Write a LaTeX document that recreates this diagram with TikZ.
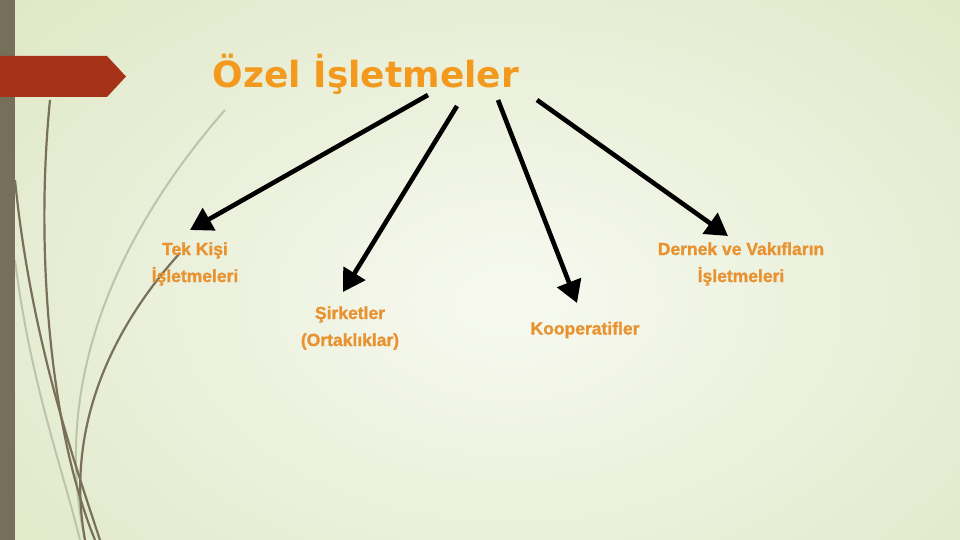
\documentclass[tikz,border=0pt]{standalone}
\usepackage{fontspec}
\setmainfont{Liberation Sans}
\newfontfamily\labfont{Liberation Sans}[FakeBold=1.2]
\newfontfamily\titlefont{DejaVu Sans}
\usetikzlibrary{arrows.meta}
\definecolor{bgout}{RGB}{220,230,194}
\definecolor{bgin}{RGB}{247,249,240}
\definecolor{barcol}{RGB}{118,112,90}
\definecolor{bannercol}{RGB}{166,50,24}
\definecolor{titlecol}{RGB}{243,154,30}
\definecolor{labcol}{RGB}{232,146,48}
\definecolor{curvedark}{RGB}{120,112,88}
\definecolor{curvelight}{RGB}{190,196,170}
\tikzset{
  conn/.style={line width=4.6pt,black,-{Triangle[length=22pt,width=25pt]}},
  lab/.style={font=\labfont\bfseries\fontsize{17.5}{27}\selectfont,text=labcol,align=center,inner sep=0pt},
  dcurve/.style={curvedark,line width=2.2pt},
  lcurve/.style={curvelight,line width=2pt},
}
\begin{document}
\begin{tikzpicture}[x=1pt,y=-1pt]
\useasboundingbox (0,0) rectangle (960,540);
% background
\shade[inner color=bgin,outer color=bgout] (-240,-200) rectangle (1260,800);
% decorative curves
\draw[lcurve] (225,110) .. controls (120,230) and (50,380) .. (85,540);
\draw[lcurve] (15,260) .. controls (30,380) and (60,460) .. (80,540);
\draw[dcurve] (50,100) .. controls (35,250) and (50,430) .. (95,540);
\draw[dcurve] (15,180) .. controls (30,330) and (70,450) .. (100,540);
\draw[dcurve] (180,253) .. controls (110,330) and (65,430) .. (85,540);
% left bar
\fill[barcol] (0,0) rectangle (15,540);
% banner
\fill[bannercol] (0,56) -- (107,56) -- (126,76.5) -- (107,97) -- (0,97) -- cycle;
% title
\node[font=\titlefont\bfseries\fontsize{36}{40}\selectfont,text=titlecol,inner sep=0pt] (title) at (366,74) {Özel İşletmeler};
% labels
\node[lab] (tek) at (195,264) {Tek Kişi\\İşletmeleri};
\node[lab] (sirket) at (350,328) {Şirketler\\(Ortaklıklar)};
\node[lab] (koop) at (585,330) {Kooperatifler};
\node[lab] (dernek) at (741,264) {Dernek ve Vakıfların\\İşletmeleri};
% connector coordinates
\coordinate (s1) at (428,95);  \coordinate (t1) at (190,230);
\coordinate (s2) at (457,106); \coordinate (t2) at (343,292);
\coordinate (s3) at (498,100); \coordinate (t3) at (577,303);
\coordinate (s4) at (537,100); \coordinate (t4) at (728,236);
\draw[conn] (s1) -- (t1);
\draw[conn] (s2) -- (t2);
\draw[conn] (s3) -- (t3);
\draw[conn] (s4) -- (t4);
\end{tikzpicture}
\end{document}
